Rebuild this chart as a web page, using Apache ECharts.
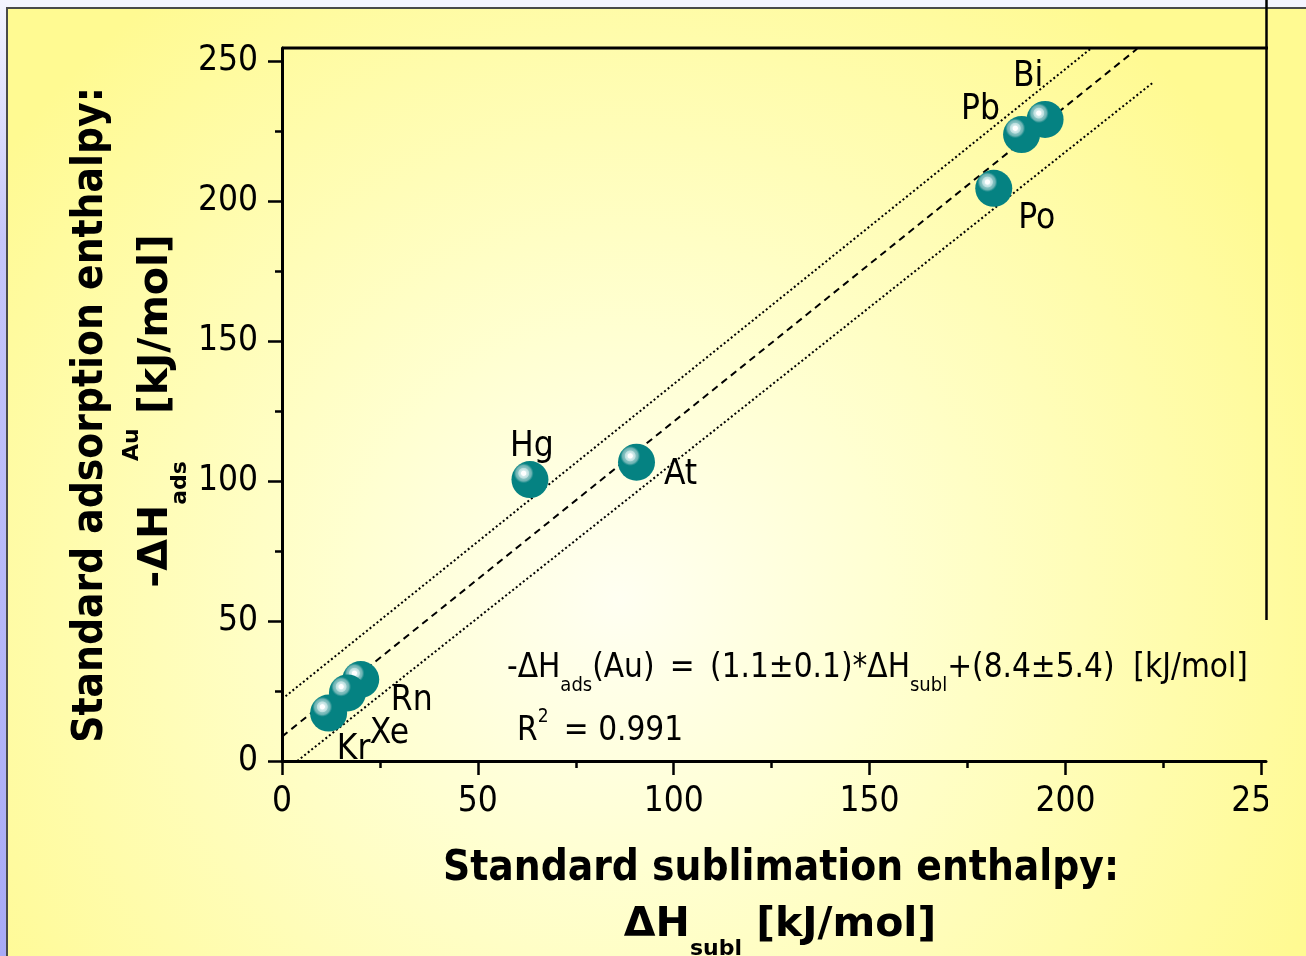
<!DOCTYPE html>
<html>
<head>
<meta charset="utf-8">
<title>adsorption vs sublimation enthalpy</title>
<script src="https://cdn.jsdelivr.net/npm/echarts@6/dist/echarts.min.js"></script>
<style>
    html, body { margin: 0; padding: 0; }
    #container { width: 1306px; height: 956px; }
</style>
</head>
<body>
<div id="container"></div>
<script>
// data
var elements = ['Bi', 'Pb', 'Po', 'At', 'Hg', 'Rn', 'Xe', 'Kr']
var sublEnthalpy = [194.8, 188.8, 181.7, 90.5, 63.3, 20.1, 16.7, 11.9]
var adsEnthalpy = [229.1, 223.7, 204.5, 106.7, 100.5, 29.1, 24.3, 17.1]
// where each element name sits next to its ball (px)
var labelOffsets = [[-17, -43], [-41, -25], [43, 31], [44, 13], [2, -33], [51, 21], [42, 41], [25, 37]]

// fit line and the two band lines, end points in data units
var fitLine = [[0, 8.7], [218.3, 254.3]]
var upperBand = [[0, 22.1], [206.4, 254.3]]
var lowerBand = [[3.9, 0], [222.2, 242.1]]

var xMajorTicks = [0, 50, 100, 150, 200, 250]
var xMinorTicks = [25, 75, 125, 175, 225]
var yMajorTicks = [0, 50, 100, 150, 200, 250]
var yMinorTicks = [25, 75, 125, 175, 225]

var FONT = '"DejaVu Sans Condensed", "DejaVu Sans", sans-serif'
var WIDE = '"DejaVu Sans", sans-serif'

var GRID = { left: 282, top: 48, width: 984, height: 713 }

// yellow slide background, lighter in the middle
var slideFill = {
    type: 'radial', x: 620, y: 600, r: 760, global: true,
    colorStops: [
        { offset: 0, color: '#FFFFF2' },
        { offset: 0.35, color: '#FFFFD2' },
        { offset: 1, color: '#FFFA92' },
    ]
}

// teal ball with a ringed highlight up-left
var ballFill = {
    type: 'radial', x: 0.33, y: 0.33, r: 0.27,
    colorStops: [
        { offset: 0, color: '#ffffff' },
        { offset: 0.22, color: '#ffffff' },
        { offset: 0.3, color: '#d4ecec' },
        { offset: 0.5, color: '#bcdede' },
        { offset: 0.58, color: '#86c2c2' },
        { offset: 0.78, color: '#6cb2b2' },
        { offset: 0.9, color: '#2a9494' },
        { offset: 1, color: '#058282' },
    ]
}

var makeBalls = function () {
    var res = []
    for (var i = 0; i < elements.length; i++) {
        res.push({
            name: elements[i],
            value: [sublEnthalpy[i], adsEnthalpy[i]],
            label: { offset: labelOffsets[i] },
        })
    }
    return res
}

var majorAxis = function (dim, ticks, max) {
    return {
        type: 'value',
        min: 0,
        max: max,
        position: dim == 'x' ? 'bottom' : 'left',
        axisLine: { show: true, onZero: false, lineStyle: { color: '#000', width: 3 } },
        axisTick: { show: true, customValues: ticks, length: 14, lineStyle: { color: '#000', width: 2.5 } },
        axisLabel: {
            customValues: ticks,
            color: '#000',
            fontSize: 35,
            fontFamily: FONT,
            margin: dim == 'x' ? 23 : 24,
        },
        splitLine: { show: false },
    }
}

var minorAxis = function (dim, ticks, max) {
    return {
        type: 'value',
        min: 0,
        max: max,
        position: dim == 'x' ? 'bottom' : 'left',
        axisLine: { show: false },
        axisTick: { show: true, customValues: ticks, length: 7, lineStyle: { color: '#000', width: 2.5 } },
        axisLabel: { show: false },
        splitLine: { show: false },
    }
}

var xMax = 251.2
var yMax = 254.6

var dom = document.getElementById('container')
var myChart = echarts.init(dom)

var option = {
    animation: false,
    grid: GRID,
    xAxis: [majorAxis('x', xMajorTicks, xMax), minorAxis('x', xMinorTicks, xMax)],
    yAxis: [majorAxis('y', yMajorTicks, yMax), minorAxis('y', yMinorTicks, yMax)],
    graphic: [
        // slide frame
        { type: 'rect', z: -100, shape: { x: 0, y: 0, width: 1306, height: 956 }, style: { fill: '#F4F4FF' } },
        {
            type: 'rect', z: -99, shape: { x: 0, y: 0, width: 7, height: 956 },
            style: {
                fill: {
                    type: 'linear', x: 0, y: 0, x2: 0, y2: 1,
                    colorStops: [
                        { offset: 0, color: '#F4F4FF' },
                        { offset: 0.25, color: '#C6C6FA' },
                        { offset: 1, color: '#A8AAF6' },
                    ]
                }
            }
        },
        {
            type: 'rect', z: -98, shape: { x: 7, y: 8, width: 1310, height: 960 },
            style: { fill: slideFill, stroke: '#4a4a4a', lineWidth: 2 }
        },
        // top and right frame lines of the plot
        { type: 'line', z: 5, shape: { x1: 282, y1: 48, x2: 1268, y2: 48 }, style: { stroke: '#000', lineWidth: 3 } },
        { type: 'line', z: 5, shape: { x1: 1266.5, y1: 0, x2: 1266.5, y2: 620 }, style: { stroke: '#000', lineWidth: 2.5 } },
        // the last tick label is cut off at the right edge
        { type: 'rect', z: 100, shape: { x: 1268, y: 776, width: 40, height: 46 }, style: { fill: slideFill } },
        // fit equation
        {
            type: 'text', z: 100, x: 507, y: 668,
            style: {
                text: '{n|-ΔH}{s|ads}{n|(Au) \u2009=\u2009 (1.1±0.1)*ΔH}{s|subl}{n|+(8.4±5.4)  [kJ/mol]}',
                align: 'left', verticalAlign: 'middle', fill: '#000',
                rich: {
                    n: { fontSize: 33, fontFamily: FONT, lineHeight: 56, fill: '#000' },
                    s: { fontSize: 20, fontFamily: FONT, lineHeight: 20, verticalAlign: 'bottom', fill: '#000' },
                }
            }
        },
        {
            type: 'text', z: 100, x: 517, y: 731,
            style: {
                text: '{n|R}{p|2}{n| \u2009= 0.991}',
                align: 'left', verticalAlign: 'middle', fill: '#000',
                rich: {
                    n: { fontSize: 33, fontFamily: FONT, lineHeight: 46, fill: '#000' },
                    p: { fontSize: 19, fontFamily: FONT, lineHeight: 19, verticalAlign: 'top', fill: '#000' },
                }
            }
        },
        // axis titles
        {
            type: 'text', z: 100, x: 781, y: 869,
            style: {
                text: 'Standard sublimation enthalpy:', fill: '#000',
                fontSize: 42, fontWeight: 'bold', fontFamily: FONT,
                align: 'center', verticalAlign: 'middle',
            }
        },
        {
            type: 'text', z: 100, x: 780, y: 925,
            style: {
                text: '{n|ΔH}{sb|subl}{n| [kJ/mol]}',
                align: 'center', verticalAlign: 'middle', fill: '#000',
                rich: {
                    n: { fontSize: 41, fontWeight: 'bold', fontFamily: WIDE, lineHeight: 70, fill: '#000' },
                    sb: { fontSize: 22, fontWeight: 'bold', fontFamily: WIDE, lineHeight: 20, verticalAlign: 'bottom', fill: '#000' },
                }
            }
        },
        {
            type: 'text', z: 100, x: 91, y: 415, rotation: Math.PI / 2,
            style: {
                text: 'Standard adsorption enthalpy:', fill: '#000',
                fontSize: 42, fontWeight: 'bold', fontFamily: FONT,
                align: 'center', verticalAlign: 'middle',
            }
        },
        {
            type: 'text', z: 100, x: 156, y: 411, rotation: Math.PI / 2,
            style: {
                text: '{n|-ΔH}{sb|ads}{sp|Au}{n| [kJ/mol]}',
                align: 'center', verticalAlign: 'middle', fill: '#000',
                rich: {
                    n: { fontSize: 41, fontWeight: 'bold', fontFamily: WIDE, lineHeight: 70, fill: '#000' },
                    sb: { fontSize: 22, fontWeight: 'bold', fontFamily: WIDE, lineHeight: 20, verticalAlign: 'bottom', fill: '#000' },
                    sp: { fontSize: 22, fontWeight: 'bold', fontFamily: WIDE, lineHeight: 38, verticalAlign: 'top', fill: '#000' },
                }
            }
        },
    ],
    series: [
        {
            name: 'fit',
            type: 'line',
            data: fitLine,
            symbol: 'none',
            silent: true,
            lineStyle: { color: '#000', width: 2, type: [7, 5] },
        },
        {
            name: 'upper',
            type: 'line',
            data: upperBand,
            symbol: 'none',
            silent: true,
            lineStyle: { color: '#000', width: 2, type: [2, 2.5] },
        },
        {
            name: 'lower',
            type: 'line',
            data: lowerBand,
            symbol: 'none',
            silent: true,
            lineStyle: { color: '#000', width: 2, type: [2, 2.5] },
        },
        {
            name: 'elements',
            type: 'scatter',
            z: 3,
            data: makeBalls(),
            symbol: 'circle',
            symbolSize: 37,
            itemStyle: { color: ballFill, opacity: 1 },
            label: {
                show: true,
                position: 'inside',
                formatter: '{b}',
                color: '#000',
                fontSize: 35,
                fontFamily: FONT,
            },
            emphasis: { disabled: true },
        },
    ],
}

myChart.setOption(option)
</script>
</body>
</html>
